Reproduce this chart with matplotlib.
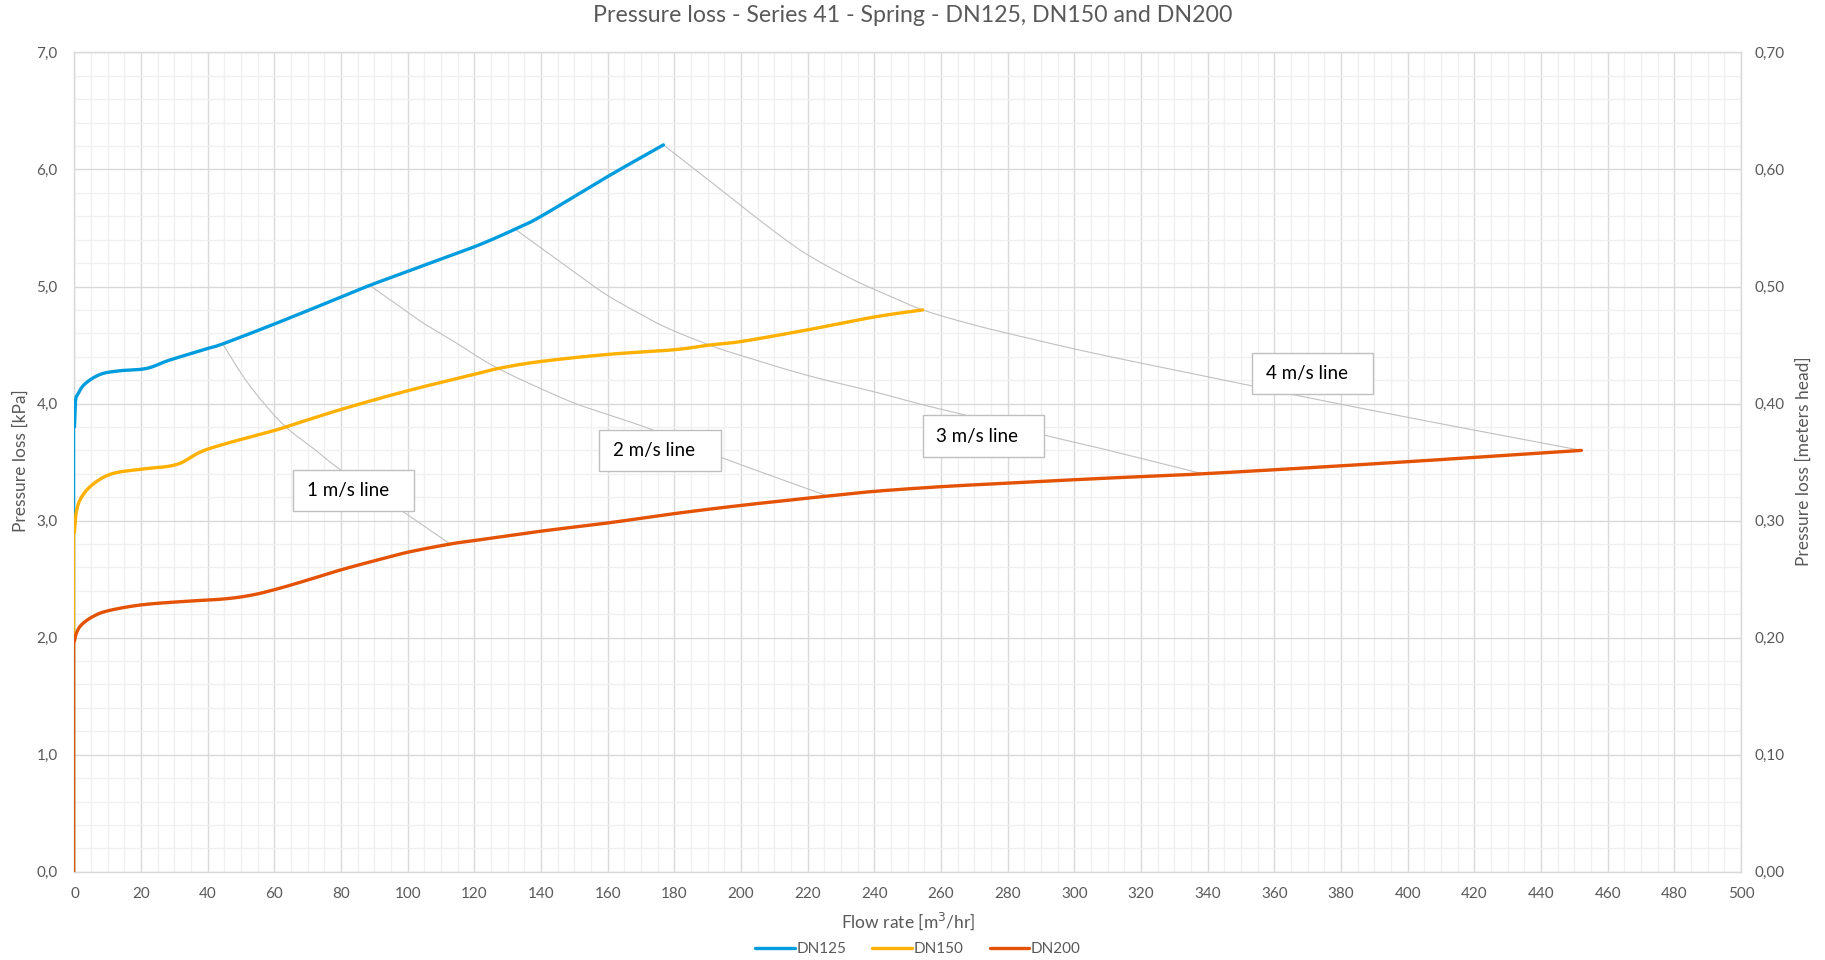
import numpy as np
import matplotlib
matplotlib.use("Agg")
import matplotlib.pyplot as plt
from matplotlib.patches import Rectangle
from matplotlib.ticker import MultipleLocator, FuncFormatter

plt.rcParams['font.family'] = ['Lato', 'DejaVu Sans']

# Series: flow rate [m3/hr] vs pressure loss [kPa]
dn125_x = [0, 0, 0.3, 1, 3.2, 7.8, 13.5, 21.6, 28.4, 39.9, 44.5, 60, 80, 88.6, 100, 120, 132.2, 140, 160, 176.7]
dn125_y = [0, 3.80, 4.02, 4.08, 4.17, 4.25, 4.28, 4.30, 4.37, 4.47, 4.51, 4.68, 4.91, 5.01, 5.13, 5.34, 5.49, 5.60, 5.94, 6.21]

dn150_x = [0, 0, 0.6, 2.1, 5.5, 11.2, 20, 30.7, 39.9, 60, 63.4, 80, 100, 120, 127.1, 140, 160, 180, 190.5, 200, 220, 240, 254.5]
dn150_y = [0, 2.90, 3.08, 3.20, 3.31, 3.40, 3.44, 3.48, 3.61, 3.77, 3.80, 3.95, 4.11, 4.25, 4.30, 4.36, 4.42, 4.46, 4.50, 4.53, 4.63, 4.74, 4.80]

dn200_x = [0, 0, 0.6, 2.1, 5.5, 10.1, 20, 33, 44.5, 52.5, 60, 69.7, 80, 90.4, 100, 112.7, 120, 140, 160, 180,
           200, 226, 240, 260, 280, 307.5, 338.5, 392.5, 452.1]
dn200_y = [0, 1.97, 2.04, 2.11, 2.18, 2.23, 2.28, 2.31, 2.33, 2.36, 2.41, 2.49, 2.58, 2.66, 2.73, 2.80, 2.83, 2.91, 2.98, 3.06,
           3.13, 3.21, 3.25, 3.29, 3.32, 3.36, 3.40, 3.49, 3.60]

# Velocity lines (connect equal-velocity points of the three sizes)
v1_x = [44.5, 50.2, 56, 63.4, 72, 80, 98.4, 112.7]
v1_y = [4.51, 4.25, 4.03, 3.80, 3.61, 3.43, 3.08, 2.80]
v2_x = [88.6, 96, 104, 113.3, 127.1, 147.7, 157.5, 173, 194, 226]
v2_y = [5.01, 4.86, 4.70, 4.54, 4.30, 4.03, 3.93, 3.78, 3.54, 3.21]
v3_x = [132.2, 147.7, 158.5, 167.5, 177.5, 190.5, 200, 220, 240, 254.5, 267.5, 291, 307.5, 338.5]
v3_y = [5.49, 5.17, 4.95, 4.80, 4.65, 4.50, 4.41, 4.24, 4.10, 3.99, 3.90, 3.73, 3.62, 3.40]
v4_x = [176.7, 188, 200, 210, 220, 233.5, 244.5, 254.5, 267.5, 280, 307.5, 353.5, 364.9, 404, 452.1]
v4_y = [6.21, 5.96, 5.69, 5.47, 5.27, 5.06, 4.92, 4.80, 4.69, 4.60, 4.42, 4.15, 4.08, 3.86, 3.60]

series = [("DN125", dn125_x, dn125_y, "#009CDE"),
          ("DN150", dn150_x, dn150_y, "#FFB000"),
          ("DN200", dn200_x, dn200_y, "#E35205")]
vlines = [(v1_x, v1_y), (v2_x, v2_y), (v3_x, v3_y), (v4_x, v4_y)]
vlabels = ["1 m/s line", "2 m/s line", "3 m/s line", "4 m/s line"]

TXT = "#595959"
GRID = "#d9d9d9"
MINOR = "#f0f0f0"


# Catmull-Rom drawing of the read points (like Excel's "smoothed line")
def smooth(x, y, n=20):
    p = np.column_stack([x, y]).astype(float)
    p = np.vstack([p[0], p, p[-1]])
    out = []
    t = np.linspace(0, 1, n, endpoint=False)[:, None]
    for i in range(1, len(p) - 2):
        p0, p1, p2, p3 = p[i - 1], p[i], p[i + 1], p[i + 2]
        seg = 0.5 * ((2 * p1) + (-p0 + p2) * t + (2 * p0 - 5 * p1 + 4 * p2 - p3) * t ** 2
                     + (-p0 + 3 * p1 - 3 * p2 + p3) * t ** 3)
        out.append(seg)
    out.append(p[-2][None, :])
    out = np.vstack(out)
    return out[:, 0], out[:, 1]


fig = plt.figure(figsize=(18.25, 9.6), dpi=100)
ax = fig.add_axes([0.0408, 0.0919, 0.9132, 0.8535])

ax.set_xlim(0, 500)
ax.set_ylim(0, 7)
ax.xaxis.set_major_locator(MultipleLocator(20))
ax.xaxis.set_minor_locator(MultipleLocator(5))
ax.yaxis.set_major_locator(MultipleLocator(1))
ax.yaxis.set_minor_locator(MultipleLocator(0.2))
ax.grid(which="minor", color=MINOR, lw=1.0, zorder=0)
ax.grid(which="major", color=GRID, lw=1.0, zorder=0)
ax.set_axisbelow(True)
for s in ax.spines.values():
    s.set_color(GRID)
    s.set_linewidth(1.0)
ax.tick_params(which="both", length=0)
ax.tick_params(axis="y", pad=12, labelsize=11, labelcolor=TXT)
ax.tick_params(axis="x", pad=11, labelsize=11, labelcolor=TXT)
ax.yaxis.set_major_formatter(FuncFormatter(lambda v, p: f"{v:.1f}".replace(".", ",")))

# velocity lines
for vx, vy in vlines:
    sx, sy = smooth(vx, vy)
    ax.plot(sx, sy, color="#c0c0c0", lw=0.8, zorder=2)

# main series: thin start from origin, then thick curve
handles = []
for name, x, y, c in series:
    ax.plot(x[:2], y[:2], color=c, lw=1.0, zorder=3)
    sx, sy = smooth(x[1:], y[1:])
    h, = ax.plot(sx, sy, color=c, lw=2.4, zorder=3, solid_joinstyle="round", solid_capstyle="round", label=name)
    handles.append(h)

# label boxes (data coords: left, bottom, width, height)
boxes = [(65.7, 3.08, 36.1, 0.35), (157.5, 3.42, 36.5, 0.35), (254.5, 3.54, 36.3, 0.36), (353.4, 4.08, 36.3, 0.35)]
for (bx, by, bw, bh), lab in zip(boxes, vlabels):
    ax.add_patch(Rectangle((bx, by), bw, bh, facecolor="white", edgecolor="#bfbfbf", lw=1.0, zorder=5))
    ax.text(bx + 4.0, by + bh / 2, lab, fontsize=13.5, color="black", va="center", ha="left", zorder=6)

ax2 = ax.twinx()
ax2.set_ylim(0, 0.7)
ax2.yaxis.set_major_locator(MultipleLocator(0.1))
ax2.yaxis.set_major_formatter(FuncFormatter(lambda v, p: f"{v:.2f}".replace(".", ",")))
ax2.tick_params(length=0, pad=10, labelsize=11, labelcolor=TXT)
for s in ax2.spines.values():
    s.set_visible(False)

fig.text(0.5, 1 - 16 / 960, "Pressure loss - Series 41 - Spring - DN125, DN150 and DN200",
         ha="center", va="center", fontsize=16.7, color=TXT)
fig.text(908 / 1825, 1 - 921 / 960, "Flow rate [m$^3$/hr]", ha="center", va="center", fontsize=12.5, color=TXT)
fig.text(21 / 1825, 0.52, "Pressure loss [kPa]", ha="center", va="center", rotation=90, fontsize=12.5, color=TXT)
fig.text(1804 / 1825, 0.52, "Pressure loss [meters head]", ha="center", va="center", rotation=90, fontsize=12.5, color=TXT)

fig.legend(handles=handles, loc="center", bbox_to_anchor=(0.503, 1 - 949 / 960), ncol=3, frameon=False,
           fontsize=11, handlelength=2.6, handletextpad=0.1, columnspacing=1.7,
           labelcolor=TXT)

fig.savefig("out.png", dpi=100)
